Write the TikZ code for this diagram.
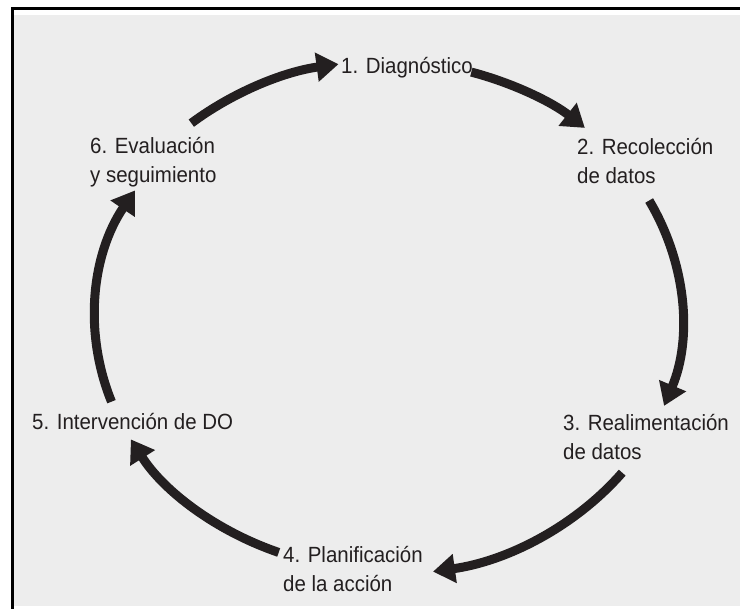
\documentclass[tikz,border=0pt]{standalone}
\usepackage{fontspec}
\setmainfont{Liberation Sans}[FakeStretch=0.93]
\usetikzlibrary{arrows.meta}
\definecolor{ink}{HTML}{231F20}
\definecolor{bgray}{HTML}{EDEDED}
\begin{document}
\begin{tikzpicture}[x=1pt,y=1pt,
  lbl/.style={inner sep=0pt, anchor=base west, align=left, text=ink,
              font=\fontsize{22}{29}\selectfont},
  cyc/.style={draw=ink, line width=9pt,
              -{Triangle[length=22pt,width=28pt]}},
  frameline/.style={draw=black, line width=3pt}]
\useasboundingbox (0,0) rectangle (740,609);
\fill[white] (0,0) rectangle (740,609);
\fill[bgray] (13,3) rectangle (740,594);
\draw[frameline] (11,600) -- (740,600);
\draw[frameline] (12,601.5) -- (12,0);

% labels (base anchor = baseline of the last line)
\node[lbl] (n1) at (341,535) {1. Diagnóstico};
\node[lbl] (n2) at (577,425) {2. Recolección\\de datos};
\node[lbl] (n3) at (563,149) {3. Realimentación\\de datos};
\node[lbl] (n4) at (283,17)  {4. Planificación\\de la acción};
\node[lbl] (n5) at (32,179)  {5. Intervención de DO};
\node[lbl] (n6) at (90,426)  {6. Evaluación\\y seguimiento};

% cycle arrows on an ellipse
\coordinate (C) at (385,291);
\path (C) ++(130.7:297pt and 257pt) coordinate (s61);
\path (C) ++(73.1:297pt and 257pt)  coordinate (s12);
\path (C) ++(27.2:297pt and 257pt)  coordinate (s23);
\path (C) ++(-37.0:297pt and 257pt) coordinate (s34);
\path (C) ++(-111.5:290pt and 252pt) coordinate (s45);
\path (C) ++(-160.6:290pt and 252pt) coordinate (s56);

\draw[cyc] (s61) arc[start angle=130.7, end angle=99.0, x radius=297pt, y radius=257pt];
\draw[cyc] (s12) arc[start angle=73.1, end angle=47.7, x radius=297pt, y radius=257pt];
\draw[cyc] (s23) arc[start angle=27.2, end angle=-20.0, x radius=297pt, y radius=257pt];
\draw[cyc] (s34) arc[start angle=-37.0, end angle=-80.7, x radius=297pt, y radius=257pt];
\draw[cyc] (s45) arc[start angle=-111.5, end angle=-151.2, x radius=290pt, y radius=252pt];
\draw[cyc] (s56) arc[start angle=-160.6, end angle=-210.4, x radius=290pt, y radius=252pt];
\end{tikzpicture}
\end{document}
